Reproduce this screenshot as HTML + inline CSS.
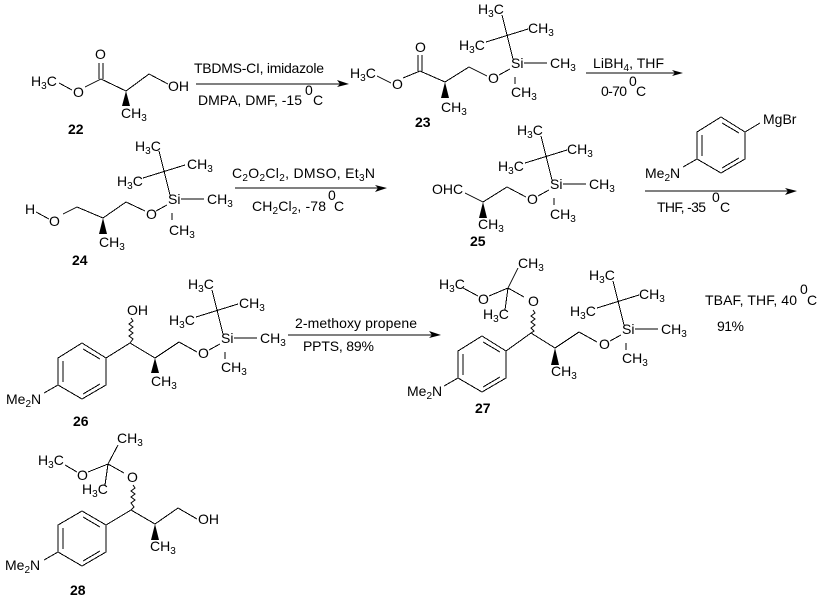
<!DOCTYPE html>
<html><head><meta charset="utf-8"><style>
html,body{margin:0;padding:0;background:#fff}
svg{display:block}
text{font-family:"Liberation Sans",sans-serif;font-size:14px;fill:#000}
.l{font-weight:bold}
.s{font-size:10px}
.b{stroke:#000;stroke-width:1;fill:none;shape-rendering:crispEdges}
.w{stroke:#000;stroke-width:1;fill:none}
.f{fill:#000;stroke:none}
</style></head><body>
<svg width="835" height="603" viewBox="0 0 835 603" xmlns="http://www.w3.org/2000/svg">
<rect width="835" height="603" fill="#fff"/>

<!-- 22 -->
<path class="b" d="M59 83L72 90M85 87L101 79L126 91L149 74L168 84M99 79V63M103 79V63"/>
<path class="f" d="M126 91L122 106H130Z"/>
<text x="31" y="86">H<tspan class="s" dy="3">3</tspan><tspan dy="-3">C</tspan></text>
<text x="73" y="97">O</text><text x="95" y="59">O</text><text x="168" y="91">OH</text>
<text x="121" y="118">CH<tspan class="s" dy="3">3</tspan></text>
<text class="l" x="68" y="134">22</text>

<!-- arrow 22-23 -->
<path class="b" d="M196 84H340"/><path class="f" d="M337 80L349 84L337 87L340 84Z"/>
<text x="194" y="73" textLength="130">TBDMS-CI, imidazole</text>
<text x="198" y="105" textLength="104">DMPA, DMF, -15</text><text x="305" y="95">0</text><text x="313" y="105">C</text>

<!-- 23 -->
<path class="b" d="M377 76L391 83M403 78L420 71L445 82L469 67L487 76M418 71V55M422 71V55"/>
<path class="f" d="M445 82L441 98H449Z"/>
<text x="350" y="78">H<tspan class="s" dy="3">3</tspan><tspan dy="-3">C</tspan></text>
<text x="392" y="89">O</text><text x="415" y="52">O</text>
<text x="441" y="112">CH<tspan class="s" dy="3">3</tspan></text>
<text class="l" x="415" y="127">23</text>
<g transform="translate(511 68)">
<path class="b" d="M-9 -53L2 -9M-25 -26L17 -39M13 -5H36M4 9V16M-12 7L-1 1"/>
<text x="-33" y="-54">H<tspan class="s" dy="3">3</tspan><tspan dy="-3">C</tspan></text>
<text x="17" y="-35">CH<tspan class="s" dy="3">3</tspan></text>
<text x="-52" y="-18">H<tspan class="s" dy="3">3</tspan><tspan dy="-3">C</tspan></text>
<text x="0" y="0">Si</text>
<text x="39" y="0">CH<tspan class="s" dy="3">3</tspan></text>
<text x="0" y="29">CH<tspan class="s" dy="3">3</tspan></text>
<text x="-23" y="15">O</text>
</g>

<!-- arrow 23-24 -->
<path class="b" d="M586 73H675"/><path class="f" d="M672 70L683 73L672 76L675 73Z"/>
<text x="593" y="68" textLength="71">LiBH<tspan class="s" dy="3">4</tspan><tspan dy="-3">, THF</tspan></text>
<text x="601" y="96" textLength="26">0-70</text><text x="629" y="86">0</text><text x="636" y="96">C</text>

<!-- 24 -->
<path class="b" d="M36 212L49 219M63 214L77 207L103 218L126 202L145 211"/>
<path class="f" d="M103 218L99 234H107Z"/>
<text x="25" y="214">H</text><text x="49" y="226">O</text>
<text x="99" y="247">CH<tspan class="s" dy="3">3</tspan></text>
<text class="l" x="72" y="265">24</text>
<g transform="translate(168 204)">
<path class="b" d="M-9 -53L2 -9M-25 -26L17 -39M13 -5H36M4 9V16M-12 7L-1 1"/>
<text x="-33" y="-53">H<tspan class="s" dy="3">3</tspan><tspan dy="-3">C</tspan></text>
<text x="19" y="-35">CH<tspan class="s" dy="3">3</tspan></text>
<text x="-51" y="-18">H<tspan class="s" dy="3">3</tspan><tspan dy="-3">C</tspan></text>
<text x="0" y="0">Si</text>
<text x="39" y="0">CH<tspan class="s" dy="3">3</tspan></text>
<text x="1" y="31">CH<tspan class="s" dy="3">3</tspan></text>
<text x="-22" y="15">O</text>
</g>

<!-- arrow 24-25 -->
<path class="b" d="M235 188H378"/><path class="f" d="M375 185L387 188L375 192L378 188Z"/>
<text x="232" y="178" textLength="143">C<tspan class="s" dy="3">2</tspan><tspan dy="-3">O</tspan><tspan class="s" dy="3">2</tspan><tspan dy="-3">Cl</tspan><tspan class="s" dy="3">2</tspan><tspan dy="-3">, DMSO, Et</tspan><tspan class="s" dy="3">3</tspan><tspan dy="-3">N</tspan></text>
<text x="252" y="211" textLength="74">CH<tspan class="s" dy="3">2</tspan><tspan dy="-3">Cl</tspan><tspan class="s" dy="3">2</tspan><tspan dy="-3">, -78</tspan></text><text x="328" y="200">0</text><text x="334" y="211">C</text>

<!-- 25 -->
<path class="b" d="M465 193L483 202L507 187L526 197"/>
<path class="f" d="M483 202L479 218H487Z"/>
<text x="432" y="194">OHC</text>
<text x="478" y="229">CH<tspan class="s" dy="3">3</tspan></text>
<text class="l" x="470" y="246">25</text>
<g transform="translate(550 189)">
<path class="b" d="M-9 -53L2 -9M-25 -26L17 -39M13 -5H36M4 9V16M-12 7L-1 1"/>
<text x="-33" y="-54">H<tspan class="s" dy="3">3</tspan><tspan dy="-3">C</tspan></text>
<text x="17" y="-35">CH<tspan class="s" dy="3">3</tspan></text>
<text x="-52" y="-18">H<tspan class="s" dy="3">3</tspan><tspan dy="-3">C</tspan></text>
<text x="0" y="0">Si</text>
<text x="39" y="0">CH<tspan class="s" dy="3">3</tspan></text>
<text x="0" y="30">CH<tspan class="s" dy="3">3</tspan></text>
<text x="-23" y="15">O</text>
</g>

<!-- Grignard reagent -->
<g transform="translate(721 117)">
<path class="b" d="M0 0L24 15V42L0 56L-24 42V15ZM1 6L18 16M1 51L18 41M-19 18V39M-24 42L-38 50"/>
<text x="-76" y="61">Me<tspan class="s" dy="3">2</tspan><tspan dy="-3">N</tspan></text>
</g>
<path class="b" d="M745 132L760 123"/>
<text x="763" y="124">MgBr</text>

<!-- arrow 25-26 -->
<path class="b" d="M645 191H788"/><path class="f" d="M785 188L797 191L785 195L788 191Z"/>
<text x="657" y="212" textLength="49">THF, -35</text><text x="712" y="202">0</text><text x="720" y="212">C</text>

<!-- 26 -->
<g transform="translate(82 343)">
<path class="b" d="M0 0L24 15V42L0 56L-24 42V15ZM1 6L18 16M1 51L18 41M-19 18V39M-24 42L-38 50"/>
<text x="-76" y="61">Me<tspan class="s" dy="3">2</tspan><tspan dy="-3">N</tspan></text>
</g>
<path class="b" d="M106 358L130 343L155 358L179 342L197 352"/>
<path class="w" d="M131 318L133 321L129 324L133 327L129 330L133 333L129 336L133 339L130 343"/>
<path class="f" d="M155 358L151 373H159Z"/>
<text x="127" y="315">OH</text>
<text x="151" y="386">CH<tspan class="s" dy="3">3</tspan></text>
<text class="l" x="73" y="426">26</text>
<g transform="translate(221 343)">
<path class="b" d="M-9 -53L2 -9M-25 -26L17 -39M13 -5H36M4 9V16M-12 7L-1 1"/>
<text x="-33" y="-54">H<tspan class="s" dy="3">3</tspan><tspan dy="-3">C</tspan></text>
<text x="18" y="-35">CH<tspan class="s" dy="3">3</tspan></text>
<text x="-52" y="-18">H<tspan class="s" dy="3">3</tspan><tspan dy="-3">C</tspan></text>
<text x="0" y="0">Si</text>
<text x="39" y="0">CH<tspan class="s" dy="3">3</tspan></text>
<text x="0" y="29">CH<tspan class="s" dy="3">3</tspan></text>
<text x="-23" y="15">O</text>
</g>

<!-- arrow 26-27 -->
<path class="b" d="M288 335H432"/><path class="f" d="M429 331L441 335L429 338L432 335Z"/>
<text x="295" y="328" textLength="122">2-methoxy propene</text>
<text x="303" y="351" textLength="71">PPTS, 89%</text>

<!-- 27 -->
<g transform="translate(482 336)">
<path class="b" d="M0 0L24 15V42L0 56L-24 42V15ZM1 6L18 16M1 51L18 41M-19 18V39M-24 42L-38 50"/>
<text x="-75" y="60">Me<tspan class="s" dy="3">2</tspan><tspan dy="-3">N</tspan></text>
</g>
<path class="b" d="M506 351L531 333L555 348L579 332L597 342M524 297L508 288L518 268M463 288L478 296M489 296L508 288L505 310"/>
<path class="w" d="M533 310L535 313L531 316L535 319L531 322L535 325L531 328L534 331L531 333"/>
<path class="f" d="M555 348L551 365H559Z"/>
<text x="518" y="268">CH<tspan class="s" dy="3">3</tspan></text>
<text x="439" y="289">H<tspan class="s" dy="3">3</tspan><tspan dy="-3">C</tspan></text>
<text x="478" y="304">O</text><text x="528" y="306">O</text>
<text x="483" y="319">H<tspan class="s" dy="3">3</tspan><tspan dy="-3">C</tspan></text>
<text x="551" y="376">CH<tspan class="s" dy="3">3</tspan></text>
<text class="l" x="475" y="413">27</text>
<g transform="translate(622 334)">
<path class="b" d="M-9 -53L2 -9M-25 -26L17 -39M13 -5H36M4 9V16M-12 7L-1 1"/>
<text x="-33" y="-54">H<tspan class="s" dy="3">3</tspan><tspan dy="-3">C</tspan></text>
<text x="17" y="-35">CH<tspan class="s" dy="3">3</tspan></text>
<text x="-52" y="-18">H<tspan class="s" dy="3">3</tspan><tspan dy="-3">C</tspan></text>
<text x="0" y="0">Si</text>
<text x="39" y="0">CH<tspan class="s" dy="3">3</tspan></text>
<text x="0" y="29">CH<tspan class="s" dy="3">3</tspan></text>
<text x="-23" y="15">O</text>
</g>
<text x="705" y="305" textLength="92">TBAF, THF, 40</text><text x="800" y="294">0</text><text x="807" y="305">C</text>
<text x="717" y="331" textLength="27">91%</text>

<!-- 28 -->
<g transform="translate(82 511)">
<path class="b" d="M0 0L24 14V41L0 55L-24 41V14ZM1 6L18 16M1 50L18 40M-19 17V38M-24 41L-38 49"/>
<text x="-77" y="59">Me<tspan class="s" dy="3">2</tspan><tspan dy="-3">N</tspan></text>
</g>
<path class="b" d="M106 525L131 510L155 524L178 508L197 519M124 473L108 464L118 445M65 465L77 472M88 472L108 464L105 485"/>
<path class="w" d="M133 485L135 488L131 491L135 494L131 497L135 500L131 503L134 507L131 510"/>
<path class="f" d="M155 524L151 540H159Z"/>
<text x="117" y="443">CH<tspan class="s" dy="3">3</tspan></text>
<text x="38" y="465">H<tspan class="s" dy="3">3</tspan><tspan dy="-3">C</tspan></text>
<text x="77" y="480">O</text><text x="127" y="482">O</text>
<text x="82" y="494">H<tspan class="s" dy="3">3</tspan><tspan dy="-3">C</tspan></text>
<text x="198" y="524">OH</text>
<text x="150" y="551">CH<tspan class="s" dy="3">3</tspan></text>
<text class="l" x="70" y="595">28</text>
</svg>
</body></html>
